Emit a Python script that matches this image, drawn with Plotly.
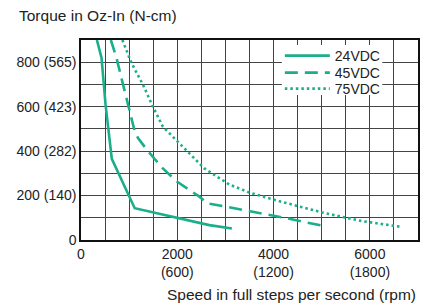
import plotly.graph_objects as go

# Data (speed in full steps/s, torque in oz-in)
v24_x = [330, 427, 510, 640, 1116, 2045, 2665, 3134]
v24_y = [900, 819, 609, 365, 143, 98, 67, 52]

v45_x = [620, 738, 874, 1012, 1116, 1184, 1390, 1700, 2000, 2459, 2630, 3078, 3457, 4112, 5110]
v45_y = [900, 819, 699, 579, 489, 459, 400, 322, 262, 195, 165, 147, 132, 105, 60]

v75_x = [860, 1047, 1287, 1494, 1700, 2045, 2217, 2562, 3078, 3492, 4112, 5007, 5833, 6626]
v75_y = [900, 797, 699, 600, 510, 435, 399, 322, 250, 214, 175, 124, 85, 60]

x_tickvals = list(range(0, 7001, 500))
x_ticklabels = {0: "0", 2000: "2000<br>(600)", 4000: "4000<br>(1200)", 6000: "6000<br>(1800)"}
y_tickvals = list(range(0, 901, 100))
y_ticklabels = {0: "0", 200: "200 (140)", 400: "400 (282)", 600: "600 (423)", 800: "800 (565)"}

color = "#1aaf8a"
font_family = "Liberation Sans, Arial, sans-serif"
text_color = "#222222"

fig = go.Figure()
fig.add_trace(go.Scatter(x=v24_x, y=v24_y, mode="lines", name="24VDC", legend="legend",
                         line=dict(color=color, width=2.6)))
fig.add_trace(go.Scatter(x=v45_x, y=v45_y, mode="lines", name="45VDC", legend="legend2",
                         line=dict(color=color, width=2.6, dash="13px,7px")))
fig.add_trace(go.Scatter(x=v75_x, y=v75_y, mode="lines", name="75VDC", legend="legend3",
                         line=dict(color=color, width=2.6, dash="2.5px,3px")))

def leg(ypos):
    return dict(x=0.59, y=ypos, xanchor="left", yanchor="middle",
                bgcolor="rgba(0,0,0,0)", borderwidth=0,
                font=dict(size=14, color=text_color), itemwidth=45)

fig.update_layout(
    width=429, height=306,
    margin=dict(l=81, r=9, t=40, b=66),
    paper_bgcolor="white", plot_bgcolor="white",
    font=dict(family=font_family, size=14, color=text_color),
    showlegend=True,
    legend=leg(0.92), legend2=leg(0.835), legend3=leg(0.755),
    xaxis=dict(range=[0, 7000], tickmode="array", tickvals=x_tickvals,
               ticktext=[x_ticklabels.get(v, "") for v in x_tickvals],
               showgrid=True, gridcolor="#444444", gridwidth=1.2,
               showline=True, linecolor="#111111", linewidth=1.5, mirror=True,
               ticks="", zeroline=False, tickfont=dict(size=14)),
    yaxis=dict(range=[0, 900], tickmode="array", tickvals=y_tickvals,
               ticktext=[y_ticklabels.get(v, "") for v in y_tickvals],
               showgrid=True, gridcolor="#444444", gridwidth=1.2,
               showline=True, linecolor="#111111", linewidth=1.5, mirror=True,
               ticks="", zeroline=False, tickfont=dict(size=14)),
    shapes=[
        # white backing behind the legend block (covers gridlines there)
        dict(type="rect", xref="paper", yref="paper", x0=0.596, x1=0.894,
             y0=0.725, y1=0.975, fillcolor="white", line=dict(width=0),
             layer="above"),
    ],
    annotations=[
        dict(text="Torque in Oz-In (N-cm)", xref="paper", yref="paper",
             x=-0.189, y=1.125, xanchor="left", yanchor="middle", showarrow=False,
             font=dict(size=15.5, color=text_color)),
        dict(text="Speed in full steps per second (rpm)", xref="paper", yref="paper",
             x=1.0, y=-0.27, xanchor="right", yanchor="middle", showarrow=False,
             font=dict(size=15.5, color=text_color)),
    ],
)

fig.write_html("out.html", config={"displayModeBar": False},
               post_script="document.body.style.margin='0';document.body.style.overflow='hidden';")
